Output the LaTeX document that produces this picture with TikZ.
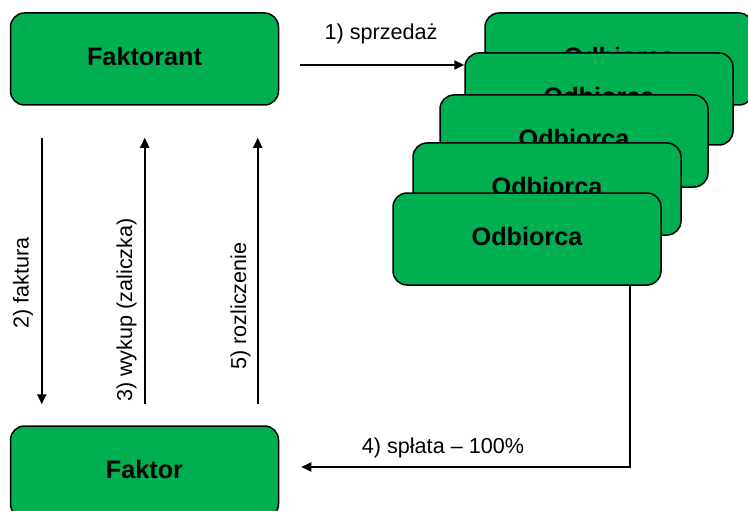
\documentclass[tikz,border=0pt]{standalone}
\usepackage{fontspec}
\setmainfont{Liberation Sans}
\usetikzlibrary{arrows.meta,positioning}
\definecolor{boxgreen}{RGB}{0,176,80}

\begin{document}
\begin{tikzpicture}[x=1pt,y=-1pt,>={Triangle[length=10pt,width=9pt]},
party/.style={draw=black, line width=1.5pt, fill=boxgreen, rounded corners=14pt,
  minimum width=268pt, minimum height=92pt, inner sep=0pt, text depth=6pt,
  font=\fontsize{25.2}{30}\selectfont\bfseries},
lbl/.style={font=\fontsize{21.6}{26}\selectfont, inner sep=0pt, anchor=base},
flow/.style={->, line width=1.8pt}]
\useasboundingbox (0,0) rectangle (748,511);
\node[party] (faktorant) at (144.5,59) {Faktorant};
\node[party] (faktor) at (144.5,472) {Faktor};
% odbiorcy, od tylu do przodu
\node[party] (odb1) at (619,59) {Odbiorca};
\node[party] (odb2) at (599,99) {Odbiorca};
\node[party] (odb3) at (574,141) {Odbiorca};
\node[party] (odb4) at (547,189) {Odbiorca};
\node[party] (odb5) at (527,239) {Odbiorca};
\coordinate (s1) at ([xshift=21pt,yshift=-6pt]faktorant.east);
\coordinate (s4) at ([xshift=103pt]odb5.south);
\draw[flow] (s1) -- (s1 -| odb2.west);
\draw[flow,shorten <=32pt,shorten >=21pt] ([xshift=32pt]faktorant.south west) -- ([xshift=32pt]faktor.north west);
\draw[flow,shorten <=21pt,shorten >=32pt] ([xshift=135pt]faktor.north west) -- ([xshift=135pt]faktorant.south west);
\draw[flow] (s4) |- ([xshift=22pt,yshift=5pt]faktor.east);
\draw[flow,shorten <=21pt,shorten >=32pt] ([xshift=248pt]faktor.north west) -- ([xshift=248pt]faktorant.south west);
\node[lbl] (l1) at (381,40) {1) sprzedaż};
\node[lbl,rotate=90] (l2) at (28.5,283) {2) faktura};
\node[lbl,rotate=90] (l3) at (132,310) {3) wykup (zaliczka)};
\node[lbl] (l4) at (443,453) {4) spłata – 100\%};
\node[lbl,rotate=90] (l5) at (246,306) {5) rozliczenie};
\end{tikzpicture}
\end{document}
